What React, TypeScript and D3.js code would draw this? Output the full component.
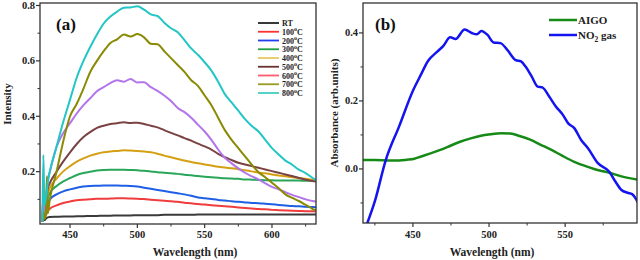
import React from "react";
import * as d3 from "d3";

// ---------- Panel (a) data ----------
const wavelengthsA = [429.5, 430.2, 431, 432, 432.8, 433.5, 435,
  440, 445, 450, 455, 460, 465, 470, 475, 480, 485,
  490, 495, 500, 505, 510, 515, 520, 525, 530, 535,
  540, 545, 550, 555, 560, 565, 570, 575, 580, 585,
  590, 595, 600, 605, 610, 615, 620, 625, 630, 633];

const seriesRT = [0.02, 0.04, 0.025, 0.03, 0.033, 0.035, 0.036,
  0.037, 0.038, 0.038, 0.039, 0.039, 0.040, 0.040, 0.041, 0.041, 0.042,
  0.042, 0.042, 0.043, 0.043, 0.043, 0.043, 0.044, 0.044, 0.044, 0.044,
  0.044, 0.045, 0.045, 0.045, 0.045, 0.045, 0.045, 0.045, 0.045, 0.045,
  0.045, 0.045, 0.045, 0.045, 0.045, 0.045, 0.045, 0.045, 0.045, 0.045];
const series100 = [0.02, 0.06, 0.035, 0.045, 0.05, 0.058, 0.066,
  0.078, 0.087, 0.092, 0.097, 0.099, 0.100, 0.102, 0.102, 0.103, 0.104,
  0.104, 0.103, 0.102, 0.101, 0.099, 0.097, 0.095, 0.093, 0.091, 0.088,
  0.086, 0.083, 0.081, 0.079, 0.077, 0.075, 0.073, 0.071, 0.069, 0.067,
  0.065, 0.064, 0.062, 0.061, 0.060, 0.059, 0.058, 0.057, 0.057, 0.056];
const series200 = [0.02, 0.08, 0.045, 0.06, 0.07, 0.085, 0.1,
  0.118, 0.129, 0.136, 0.142, 0.146, 0.148, 0.149, 0.150, 0.150, 0.150,
  0.149, 0.148, 0.146, 0.142, 0.138, 0.134, 0.130, 0.126, 0.122, 0.118,
  0.113, 0.107, 0.104, 0.101, 0.098, 0.096, 0.093, 0.091, 0.089, 0.087,
  0.086, 0.084, 0.082, 0.080, 0.078, 0.076, 0.075, 0.073, 0.072, 0.071];
const series300 = [0.02, 0.1, 0.05, 0.07, 0.085, 0.105, 0.123,
  0.148, 0.165, 0.177, 0.188, 0.195, 0.200, 0.204, 0.206, 0.207, 0.207,
  0.207, 0.206, 0.205, 0.203, 0.201, 0.198, 0.196, 0.194, 0.192, 0.189,
  0.187, 0.184, 0.182, 0.180, 0.178, 0.176, 0.175, 0.174, 0.172, 0.171,
  0.170, 0.169, 0.169, 0.168, 0.168, 0.168, 0.168, 0.167, 0.167, 0.167];
const series400 = [0.02, 0.12, 0.055, 0.08, 0.1, 0.12, 0.141,
  0.175, 0.201, 0.220, 0.236, 0.248, 0.258, 0.265, 0.270, 0.273, 0.275,
  0.277, 0.276, 0.275, 0.273, 0.270, 0.265, 0.258, 0.252, 0.246, 0.240,
  0.235, 0.230, 0.226, 0.222, 0.218, 0.215, 0.212, 0.209, 0.205, 0.201,
  0.197, 0.194, 0.190, 0.186, 0.183, 0.180, 0.177, 0.174, 0.171, 0.170];
const series500 = [0.02, 0.13, 0.06, 0.09, 0.12, 0.14, 0.159,
  0.20, 0.237, 0.27, 0.30, 0.325, 0.343, 0.358, 0.366, 0.372, 0.375,
  0.378, 0.376, 0.377, 0.372, 0.366, 0.360, 0.350, 0.340, 0.331, 0.321,
  0.312, 0.301, 0.291, 0.280, 0.264, 0.252, 0.242, 0.232, 0.226, 0.220,
  0.214, 0.208, 0.202, 0.196, 0.190, 0.184, 0.177, 0.171, 0.166, 0.164];
const series600 = [0.02, 0.11, 0.06, 0.1, 0.14, 0.17, 0.2,
  0.29, 0.34, 0.375, 0.41, 0.44, 0.465, 0.49, 0.505, 0.52, 0.53,
  0.525, 0.535, 0.522, 0.523, 0.505, 0.492, 0.475, 0.455, 0.43, 0.415,
  0.395, 0.37, 0.345, 0.315, 0.28, 0.25, 0.23, 0.212, 0.196, 0.183,
  0.172, 0.158, 0.145, 0.136, 0.126, 0.116, 0.108, 0.100, 0.094, 0.092];
const series700 = [0.02, 0.05, 0.03, 0.04, 0.183, 0.05, 0.10,
  0.20, 0.31, 0.40, 0.445, 0.50, 0.56, 0.60, 0.635, 0.665, 0.678,
  0.695, 0.688, 0.697, 0.685, 0.662, 0.66, 0.635, 0.61, 0.585, 0.56,
  0.53, 0.51, 0.475, 0.44, 0.395, 0.35, 0.315, 0.285, 0.255, 0.225,
  0.198, 0.18, 0.16, 0.14, 0.118, 0.105, 0.094, 0.08, 0.066, 0.058];
const series800 = [0.02, 0.26, 0.08, 0.1, 0.13, 0.16, 0.2,
  0.29, 0.38, 0.46, 0.54, 0.60, 0.65, 0.695, 0.735, 0.76, 0.778,
  0.792, 0.793, 0.797, 0.785, 0.768, 0.762, 0.738, 0.718, 0.703, 0.675,
  0.645, 0.622, 0.595, 0.565, 0.525, 0.48, 0.45, 0.42, 0.39, 0.365,
  0.345, 0.315, 0.285, 0.262, 0.24, 0.225, 0.207, 0.195, 0.178, 0.168];

const labelsA = ["RT", "100", "200", "300", "400", "500", "600", "700", "800"];
const colorsA = ["#3a3a3a", "#f03c3c", "#1f5fe6", "#2aa65a", "#d4a012", "#7a4242", "#b374ea", "#8a8a05", "#22c6c6"];
const legendColorsA = ["#222222", "#ff3030", "#2040f0", "#20a040", "#e8c860", "#6a3030", "#ff5a6e", "#9a9a20", "#40d0c0"];
const seriesA = [seriesRT, series100, series200, series300, series400, series500, series600, series700, series800];

const xTicksA = [450, 500, 550, 600];
const xMinorA = [475, 525, 575, 625];
const yTicksA = [0.2, 0.4, 0.6, 0.8];
const yMinorA = [0.1, 0.3, 0.5, 0.7];

// ---------- Panel (b) data ----------
const wavelengthsNO2 = [419.8, 425, 432, 441, 450, 455, 460, 466, 470, 474.5, 478, 484, 489, 492, 495, 499, 503,
  507.5, 512, 517.5, 521, 524, 528, 532, 535, 539.5, 544, 548.5, 552, 556, 560.5, 565, 571.5, 579, 583, 587, 591, 594, 598];
const valuesNO2 = [-0.162, -0.095, 0.024, 0.126, 0.23, 0.275, 0.318, 0.345, 0.362, 0.387, 0.382, 0.41, 0.399, 0.396, 0.406, 0.394, 0.372,
  0.37, 0.35, 0.32, 0.316, 0.301, 0.272, 0.242, 0.24, 0.213, 0.183, 0.159, 0.134, 0.12, 0.085, 0.061, 0.017, -0.008, -0.037, -0.062, -0.07, -0.074, -0.1];
const wavelengthsAIGO = [416.8, 425, 435, 441, 446, 451, 455, 461, 468, 475, 481, 488, 494, 501, 508, 514, 520,
  527, 534, 541, 548, 556, 563, 569, 574, 579, 587, 598];
const valuesAIGO = [0.026, 0.026, 0.025, 0.025, 0.027, 0.03, 0.036, 0.045, 0.056, 0.069, 0.08, 0.09, 0.097, 0.102, 0.105, 0.104, 0.097,
  0.086, 0.071, 0.056, 0.039, 0.021, 0.009, 0.0, -0.006, -0.011, -0.022, -0.032];

const xTicksB = [450, 500, 550];
const xMinorB = [425, 475, 525, 575];
const yTicksB = [0.0, 0.2, 0.4];
const yMinorB = [-0.1, 0.1, 0.3];

const FONT = "'Liberation Serif', 'Times New Roman', serif";

export default function App() {
  const a = { x0: 40, x1: 316, y0: 3, y1: 224 };
  const xA = d3.scaleLinear().domain([427.7, 632.7]).range([a.x0, a.x1]);
  const yA = d3.scaleLinear().domain([0.011, 0.809]).range([a.y1, a.y0]);
  const b = { x0: 363, x1: 637, y0: 3, y1: 223 };
  const xB = d3.scaleLinear().domain([417.2, 597.2]).range([b.x0, b.x1]);
  const yB = d3.scaleLinear().domain([-0.159, 0.488]).range([b.y1, b.y0]);

  const lineA = d3.line<[number, number]>().x(d => xA(d[0])).y(d => yA(d[1])).curve(d3.curveMonotoneX);
  const lineB = d3.line<[number, number]>().x(d => xB(d[0])).y(d => yB(d[1])).curve(d3.curveMonotoneX);

  const axisColor = "#333";
  const fmt = (v: number) => v.toFixed(1);

  return (
    <svg width={640} height={260} style={{ position: "absolute", left: 0, top: 0, background: "#fff" }} fontFamily={FONT} fontWeight="bold">
      <defs>
        <clipPath id="clipA"><rect x={a.x0} y={a.y0} width={a.x1 - a.x0} height={a.y1 - a.y0} /></clipPath>
        <clipPath id="clipB"><rect x={b.x0} y={b.y0} width={b.x1 - b.x0} height={b.y1 - b.y0} /></clipPath>
      </defs>
      <rect width={640} height={260} fill="#fff" />

      {/* ---------- Panel a ---------- */}
      <g clipPath="url(#clipA)">
        {seriesA.map((s, i) => (
          <path key={i} d={lineA(wavelengthsA.map((w, j) => [w, s[j]] as [number, number])) || ""}
            fill="none" stroke={colorsA[i]} strokeWidth={2} strokeLinejoin="round" />
        ))}
      </g>
      <rect x={a.x0} y={a.y0} width={a.x1 - a.x0} height={a.y1 - a.y0} fill="none" stroke={axisColor} strokeWidth={1.3} />
      {xTicksA.map(t => (
        <g key={t}>
          <line x1={xA(t)} x2={xA(t)} y1={a.y1} y2={a.y1 + 4} stroke={axisColor} strokeWidth={1.2} />
          <text x={xA(t)} y={238} textAnchor="middle" fontSize={10.5} fill="#222">{t}</text>
        </g>
      ))}
      {xMinorA.map(t => (
        <line key={t} x1={xA(t)} x2={xA(t)} y1={a.y1} y2={a.y1 + 2.5} stroke={axisColor} strokeWidth={1} />
      ))}
      {yTicksA.map(t => (
        <g key={t}>
          <line x1={a.x0 - 4} x2={a.x0} y1={yA(t)} y2={yA(t)} stroke={axisColor} strokeWidth={1.2} />
          <text x={a.x0 - 5} y={yA(t) + 3.5} textAnchor="end" fontSize={10.5} fill="#222">{fmt(t)}</text>
        </g>
      ))}
      {yMinorA.map(t => (
        <line key={t} x1={a.x0 - 2.5} x2={a.x0} y1={yA(t)} y2={yA(t)} stroke={axisColor} strokeWidth={1} />
      ))}
      <text x={195} y={256} textAnchor="middle" fontSize={11.5} fill="#222">Wavelength (nm)</text>
      <text transform={`translate(11,104) rotate(-90)`} textAnchor="middle" fontSize={11} fill="#222">Intensity</text>
      <text x={56} y={30} fontSize={17} fill="#111">(a)</text>

      {/* legend a */}
      {labelsA.map((lab, i) => {
        const y = 23 + i * 8.75;
        return (
          <g key={lab}>
            <line x1={258} x2={279} y1={y} y2={y} stroke={legendColorsA[i]} strokeWidth={1.8} />
            {i === 0 ? (
              <text x={282} y={y + 3} fontSize={8} fill="#222">RT</text>
            ) : (
              <text x={282} y={y + 3} fontSize={8} fill="#222">
                {lab}
                <tspan dy={-3.5} fontSize={6}>o</tspan>
                <tspan dy={3.5}>C</tspan>
              </text>
            )}
          </g>
        );
      })}

      {/* ---------- Panel b ---------- */}
      <g clipPath="url(#clipB)">
        <path d={lineB(wavelengthsAIGO.map((w, j) => [w, valuesAIGO[j]] as [number, number])) || ""}
          fill="none" stroke="#168a16" strokeWidth={2.5} strokeLinejoin="round" />
        <path d={lineB(wavelengthsNO2.map((w, j) => [w, valuesNO2[j]] as [number, number])) || ""}
          fill="none" stroke="#1414f0" strokeWidth={2.5} strokeLinejoin="round" />
      </g>
      <rect x={b.x0} y={b.y0} width={b.x1 - b.x0} height={b.y1 - b.y0} fill="none" stroke={axisColor} strokeWidth={1.3} />
      {xTicksB.map(t => (
        <g key={t}>
          <line x1={xB(t)} x2={xB(t)} y1={b.y1} y2={b.y1 + 4} stroke={axisColor} strokeWidth={1.2} />
          <text x={xB(t)} y={238} textAnchor="middle" fontSize={10.5} fill="#222">{t}</text>
        </g>
      ))}
      {xMinorB.map(t => (
        <line key={t} x1={xB(t)} x2={xB(t)} y1={b.y1} y2={b.y1 + 2.5} stroke={axisColor} strokeWidth={1} />
      ))}
      {yTicksB.map(t => (
        <g key={t}>
          <line x1={b.x0 - 4} x2={b.x0} y1={yB(t)} y2={yB(t)} stroke={axisColor} strokeWidth={1.2} />
          <text x={b.x0 - 5} y={yB(t) + 3.5} textAnchor="end" fontSize={10.5} fill="#222">{fmt(t)}</text>
        </g>
      ))}
      {yMinorB.map(t => (
        <line key={t} x1={b.x0 - 2.5} x2={b.x0} y1={yB(t)} y2={yB(t)} stroke={axisColor} strokeWidth={1} />
      ))}
      <text x={492} y={256} textAnchor="middle" fontSize={11.5} fill="#222">Wavelength (nm)</text>
      <text transform={`translate(338,113) rotate(-90)`} textAnchor="middle" fontSize={11} fill="#222">Absorbance (arb.units)</text>
      <text x={375} y={30} fontSize={17} fill="#111">(b)</text>

      {/* legend b */}
      <line x1={549} x2={577} y1={20} y2={20} stroke="#168a16" strokeWidth={2.5} />
      <text x={578} y={24} fontSize={11} fill="#222">AIGO</text>
      <line x1={549} x2={577} y1={35} y2={35} stroke="#1414f0" strokeWidth={2.5} />
      <text x={578} y={39} fontSize={11} fill="#222">
        NO<tspan dy={3} fontSize={7.5}>2</tspan><tspan dy={-3}> gas</tspan>
      </text>
    </svg>
  );
}
